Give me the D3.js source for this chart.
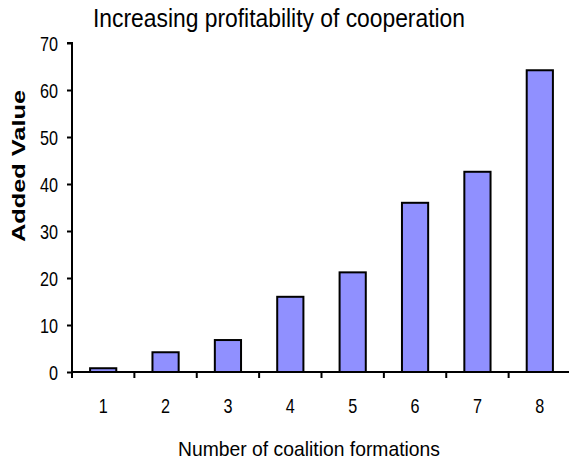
<!DOCTYPE html>
<html>
<head>
<meta charset="utf-8">
<script src="https://cdn.jsdelivr.net/npm/d3@7"></script>
<style>
  body { margin: 0; background: #fff; }
  text { font-family: "Liberation Sans", Arial, sans-serif; fill: #000; }
</style>
</head>
<body>
<svg id="chart" width="569" height="462"></svg>
<script>
// data
const categories = ["1", "2", "3", "4", "5", "6", "7", "8"];
const addedValue = [0.8, 4.2, 6.8, 16, 21.2, 36, 42.6, 64.2];
const yTicks = [0, 10, 20, 30, 40, 50, 60, 70];

const svg = d3.select("#chart");
const plotLeft = 72, plotRight = 571, plotTop = 43, plotBottom = 372;

const x = d3.scaleBand().domain(categories).range([plotLeft, plotRight]).paddingInner(0.58).paddingOuter(0.29);
const y = d3.scaleLinear().domain([0, 70]).range([plotBottom, plotTop]);

// bars
svg.selectAll("rect.bar")
    .data(addedValue)
    .enter().append("rect")
    .attr("class", "bar")
    .attr("x", (d, i) => x(categories[i]))
    .attr("y", d => y(d))
    .attr("width", x.bandwidth())
    .attr("height", d => y(0) - y(d))
    .attr("fill", "#9090ff")
    .attr("stroke", "#000")
    .attr("stroke-width", 2);

// y axis
const yAxis = svg.append("g")
    .attr("transform", `translate(${plotLeft},0)`)
    .call(d3.axisLeft(y).tickValues(yTicks).tickSize(5).tickPadding(9));
yAxis.select(".domain").attr("stroke-width", 2).attr("d", `M-5,${plotTop}H0V${plotBottom}`);
yAxis.selectAll(".tick line").attr("stroke-width", 2);
yAxis.selectAll(".tick text")
    .attr("font-size", 21)
    .attr("dy", "0.36em")
    .attr("textLength", d => String(d).length * 9)
    .attr("lengthAdjust", "spacingAndGlyphs");

// x axis: ticks on the category boundaries
const step = x.step();
const bounds = d3.range(categories.length + 1).map(i => plotLeft + i * step);
svg.append("line")
    .attr("x1", plotLeft).attr("x2", 569)
    .attr("y1", plotBottom).attr("y2", plotBottom)
    .attr("stroke", "#000").attr("stroke-width", 2);
svg.selectAll("line.xtick")
    .data(bounds)
    .enter().append("line")
    .attr("class", "xtick")
    .attr("x1", d => d).attr("x2", d => d)
    .attr("y1", plotBottom).attr("y2", plotBottom + 6)
    .attr("stroke", "#000").attr("stroke-width", 2);
svg.selectAll("text.xlab")
    .data(categories)
    .enter().append("text")
    .attr("class", "xlab")
    .attr("x", d => x(d) + x.bandwidth() / 2)
    .attr("y", 413)
    .attr("text-anchor", "middle")
    .attr("font-size", 21)
    .attr("textLength", 9)
    .attr("lengthAdjust", "spacingAndGlyphs")
    .text(d => d);

// titles
svg.append("text")
    .attr("x", 279).attr("y", 27)
    .attr("text-anchor", "middle")
    .attr("font-size", 25)
    .attr("textLength", 372).attr("lengthAdjust", "spacingAndGlyphs")
    .text("Increasing profitability of cooperation");

svg.append("text")
    .attr("x", 309).attr("y", 456)
    .attr("text-anchor", "middle")
    .attr("font-size", 21)
    .attr("textLength", 262).attr("lengthAdjust", "spacingAndGlyphs")
    .text("Number of coalition formations");

svg.append("text")
    .attr("transform", "translate(25,166) rotate(-90)")
    .attr("text-anchor", "middle")
    .attr("font-size", 18)
    .attr("font-weight", "bold")
    .attr("textLength", 152).attr("lengthAdjust", "spacingAndGlyphs")
    .text("Added Value");
</script>
</body>
</html>
